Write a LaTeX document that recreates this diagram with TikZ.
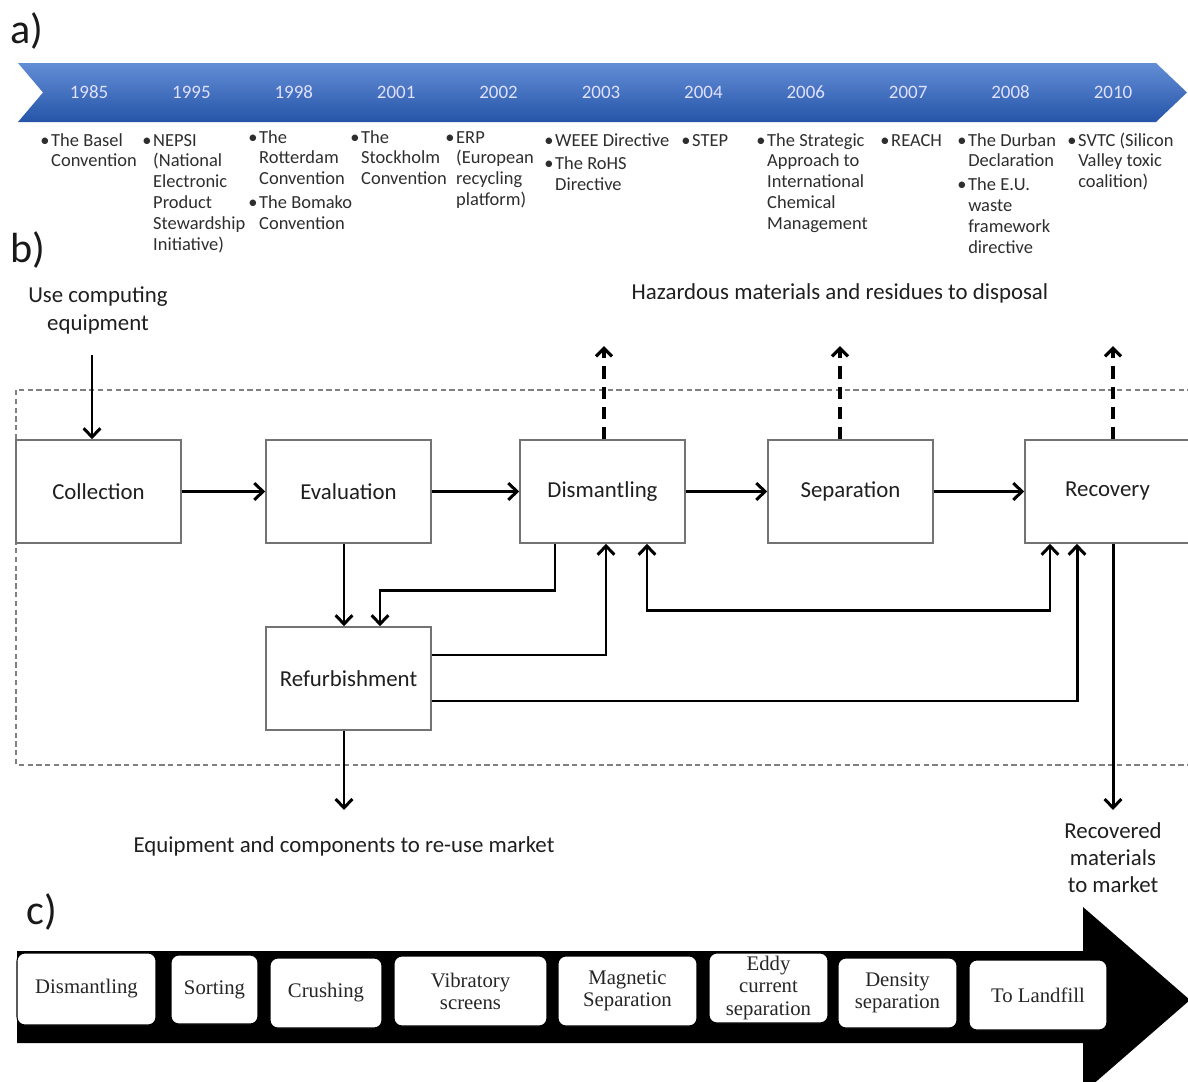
\documentclass[tikz,border=0pt]{standalone}
\usepackage{fontspec}
\setmainfont{Carlito}
\newfontfamily\serifc{Liberation Serif}
\usetikzlibrary{calc,arrows.meta}
\newcommand\bu{\makebox[6.2pt][l]{\textbullet}}
\newcommand\tlcol[1]{\begin{tabular}[t]{@{}l@{}l@{}}#1\end{tabular}}
\begin{document}
\begin{tikzpicture}[x=0.02cm,y=-0.02cm,
  lbl/.style={font=\fontsize{24}{28}\selectfont,inner sep=0pt,text=black!90},
  year/.style={font=\fontsize{10.8}{12}\selectfont,text=white!88!blue,inner sep=0pt},
  tl/.style={anchor=base west,inner sep=0pt,font=\fontsize{10.5}{11.9}\selectfont,text=black!82},
  box/.style={draw=black!55,line width=0.9pt,minimum width=3.3cm,minimum height=2.06cm,inner sep=0pt,font=\fontsize{13}{15}\selectfont,text=black!88},
  txt/.style={font=\fontsize{13}{15.5}\selectfont,text=black!88,align=center,inner sep=0pt},
  arr/.style={line width=1.7pt,-{Straight Barb[length=5pt,width=9.5pt]}},
  arrb/.style={line width=1.7pt,{Straight Barb[length=5pt,width=9.5pt]}-{Straight Barb[length=5pt,width=9.5pt]}},
  darr/.style={line width=1.8pt,dash pattern=on 7pt off 4.5pt,-{Straight Barb[length=4.5pt,width=9pt]}},
  cbox/.style={draw=black,line width=0.6pt,fill=white,rounded corners=4.5pt,inner sep=0pt,align=center,font=\serifc\fontsize{11.8}{12.6}\selectfont,text=black!85}
]
\useasboundingbox (0,0) rectangle (1188,1082);
\fill[white] (0,0) rectangle (1188,1082);

% ---------- a) ----------
\node[lbl] (la) at (27,31) {a)};
\shade[top color={rgb,255:red,98;green,142;blue,214},bottom color={rgb,255:red,38;green,84;blue,168}]
  (18,63) -- (1156,63) -- (1187,92.5) -- (1156,122) -- (18,122) -- (43,92.5) -- cycle;
\foreach \yr [count=\i from 0] in {1985,1995,1998,2001,2002,2003,2004,2006,2007,2008,2010}
  \node[year] (y\yr) at (89+102.4*\i,92.5) {\yr};

\node[tl] (t1) at (40,146) {\tlcol{\bu&The Basel\\&Convention}};
\node[tl] (t2) at (142,146) {\tlcol{\bu&NEPSI\\&(National\\&Electronic\\&Product\\&Stewardship\\&Initiative)}};
\node[tl] (t3) at (248,143) {\tlcol{\bu&The\\&Rotterdam\\&Convention\\[1.7pt]\bu&The Bomako\\&Convention}};
\node[tl] (t4) at (350,143) {\tlcol{\bu&The\\&Stockholm\\&Convention}};
\node[tl] (t5) at (445,143) {\tlcol{\bu&ERP\\&(European\\&recycling\\&platform)}};
\node[tl] (t6) at (544,146) {\tlcol{\bu&WEEE Directive\\[1.7pt]\bu&The RoHS\\&Directive}};
\node[tl] (t7) at (681,146) {\tlcol{\bu&STEP}};
\node[tl] (t8) at (756,146) {\tlcol{\bu&The Strategic\\&Approach to\\&International\\&Chemical\\&Management}};
\node[tl] (t9) at (880,146) {\tlcol{\bu&REACH}};
\node[tl] (t10) at (957,146) {\tlcol{\bu&The Durban\\&Declaration\\[1.7pt]\bu&The E.U.\\&waste\\&framework\\&directive}};
\node[tl] (t11) at (1067,146) {\tlcol{\bu&SVTC (Silicon\\&Valley toxic\\&coalition)}};

% ---------- b) ----------
\node[lbl] (lb) at (28,250) {b)};
\draw[black!50,line width=0.7pt,dash pattern=on 3pt off 2pt] (16,390) rectangle (1200,765);

\node[txt] (use) at (98,310.5) {Use computing\\equipment};
\node[txt] (haz) at (840,293) {Hazardous materials and residues to disposal};
\node[txt] (reuse) at (344,846) {Equipment and components to re-use market};
\node[txt] (recmkt) at (1113,857.5) {Recovered\\materials\\to market};

\node[box] (coll) at (98.5,491.5) {Collection};
\node[box] (eval) at (348.5,491.5) {Evaluation};
\node[box] (dism) at (602.5,491.5) {Dismantling};
\node[box] (sep) at (850.5,491.5) {Separation};
\node[box] (rec) at (1107.5,491.5) {Recovery};
\node[box] (refb) at (348.5,678.5) {Refurbishment};

\coordinate (usestart) at (92,355);
\coordinate (reuseend) at (344,810);
\coordinate (recend) at (1113,810);

\draw[arr] (usestart) -- (usestart |- coll.north);
\draw[arr] (coll.east) -- (eval.west);
\draw[arr] (eval.east) -- (dism.west);
\draw[arr] (dism.east) -- (sep.west);
\draw[arr] (sep.east) -- (rec.west);

\draw[arr] ($(eval.south)+(-4.5,0)$) -- ($(refb.north)+(-4.5,0)$);
\draw[arr] ($(dism.south)+(-47.5,0)$) -- ++(0,47) -| ($(refb.north)+(31.5,0)$);
\draw[arr] ($(refb.east)+(0,-23.5)$) -| ($(dism.south)+(3.5,0)$);
\draw[arrb] ($(dism.south)+(44.5,0)$) -- ++(0,67) -| ($(rec.south)+(-57.5,0)$);
\draw[arr] ($(refb.east)+(0,22.5)$) -| ($(rec.south)+(-30.5,0)$);
\draw[arr] (rec.south -| recend) -- (recend);
\draw[arr] ($(refb.south)+(-4.5,0)$) -- (reuseend);

\draw[darr] ($(dism.north)+(1.5,0)$) -- ++(0,-93);
\draw[darr] ($(sep.north)+(-10.5,0)$) -- ++(0,-93);
\draw[darr] ($(rec.north)+(5.5,0)$) -- ++(0,-93);

% ---------- c) ----------
\node[lbl] (lc) at (42,912) {c)};
\fill[black] (17,951) -- (1083,951) -- (1083,907) -- (1190,1000) -- (1083,1093) -- (1083,1043) -- (17,1043) -- cycle;

\node[cbox,minimum width=2.78cm,minimum height=1.44cm] (c1) at (86.5,989) {Dismantling};
\node[cbox,minimum width=1.74cm,minimum height=1.38cm] (c2) at (214.5,989.5) {Sorting};
\node[cbox,minimum width=2.24cm,minimum height=1.40cm] (c3) at (326,993) {Crushing};
\node[cbox,minimum width=3.06cm,minimum height=1.40cm] (c4) at (470.5,991) {Vibratory\\screens};
\node[cbox,minimum width=2.78cm,minimum height=1.40cm] (c5) at (627.5,991) {Magnetic\\Separation};
\node[cbox,minimum width=2.38cm,minimum height=1.40cm] (c6) at (768.5,988) {Eddy\\current\\separation};
\node[cbox,minimum width=2.38cm,minimum height=1.40cm] (c7) at (897.5,993) {Density\\separation};
\node[cbox,minimum width=2.76cm,minimum height=1.40cm] (c8) at (1038,995) {To Landfill};
\end{tikzpicture}
\end{document}
